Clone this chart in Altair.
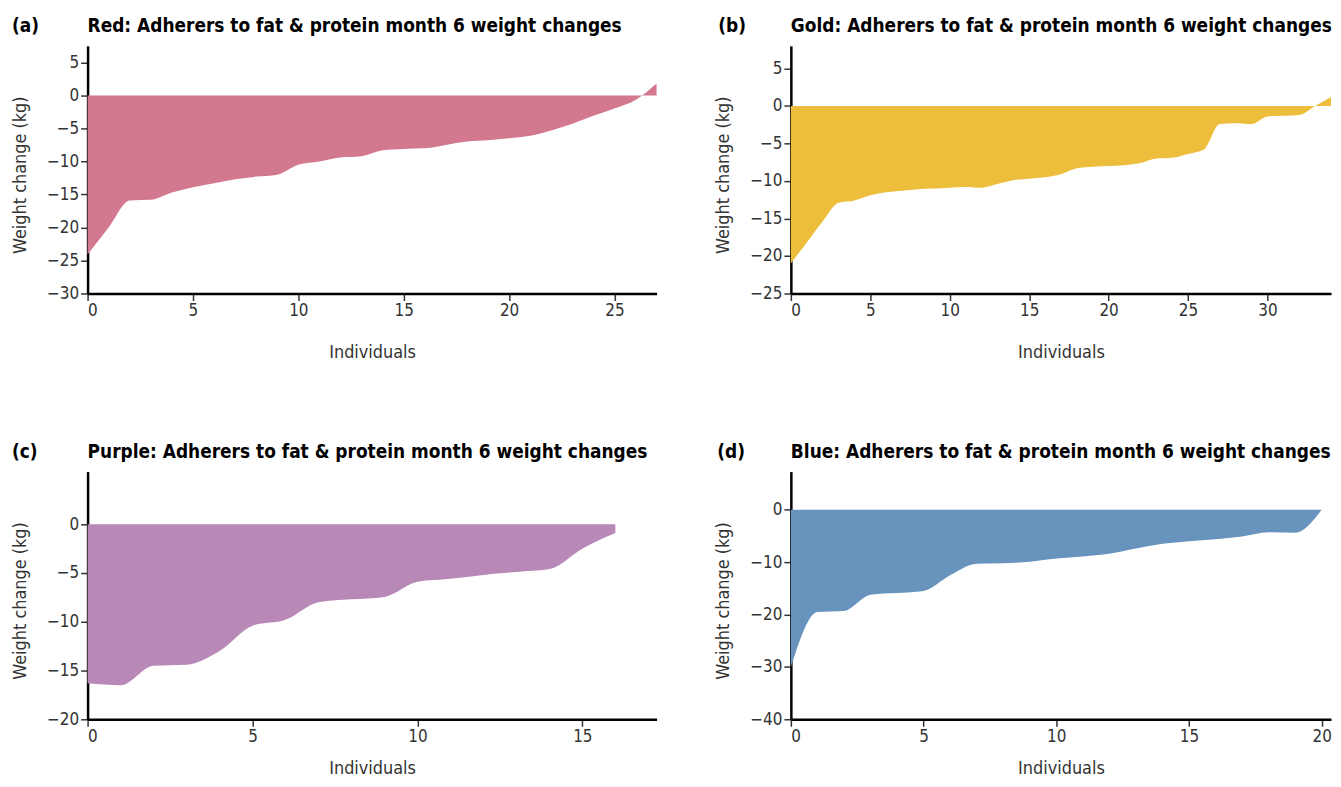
import altair as alt
import pandas as pd

FONT = "DejaVu Sans Condensed, DejaVu Sans, sans-serif"

# ---- data ----
red_x = list(range(28))
red_y = [-24.1, -20.0, -15.9, -15.8, -14.7, -13.9, -13.3, -12.7, -12.3, -12.0,
         -10.5, -10.0, -9.4, -9.2, -8.3, -8.1, -8.0, -7.5, -7.0, -6.8,
         -6.5, -6.1, -5.3, -4.3, -3.1, -2.0, -0.7, 1.8]

gold_x = list(range(35))
gold_y = [-21.0, -18.2, -15.4, -12.9, -12.6, -11.9, -11.5, -11.3, -11.1, -11.0,
          -10.9, -10.8, -10.9, -10.4, -9.9, -9.7, -9.5, -9.1, -8.3, -8.1,
          -8.0, -7.9, -7.6, -7.0, -6.9, -6.4, -5.8, -2.4, -2.3, -2.4,
          -1.4, -1.3, -1.2, 0.0, 1.2]

purple_x = list(range(17))
purple_y = [-16.3, -16.5, -14.5, -14.4, -13.0, -10.4, -9.8, -8.0, -7.7, -7.45,
            -5.9, -5.6, -5.2, -4.9, -4.6, -2.5, -0.9]

blue_x = list(range(21))
blue_y = [-30.1, -19.5, -19.3, -16.2, -15.9, -15.5, -12.5, -10.3, -10.2, -9.9,
          -9.3, -8.9, -8.4, -7.4, -6.5, -6.0, -5.6, -5.1, -4.3, -4.4, 0.0]

titles = [
    "Red: Adherers to fat & protein month 6 weight changes",
    "Gold: Adherers to fat & protein month 6 weight changes",
    "Purple: Adherers to fat & protein month 6 weight changes",
    "Blue: Adherers to fat & protein month 6 weight changes",
]
labels = ["(a)", "(b)", "(c)", "(d)"]
colors = ["#d27990", "#ecbe3c", "#b889b6", "#6893bd"]

x_ticks = [[0, 5, 10, 15, 20, 25], [0, 5, 10, 15, 20, 25, 30], [0, 5, 10, 15], [0, 5, 10, 15, 20]]
y_ticks = [[5, 0, -5, -10, -15, -20, -25, -30], [5, 0, -5, -10, -15, -20, -25],
           [0, -5, -10, -15, -20], [0, -10, -20, -30, -40]]
x_max = [27, 34, 17.25, 20.35]
y_dom = [[-30, 7.5], [-25, 8], [-20, 5.4], [-40, 7.3]]
widths = [572, 543, 572, 543]
label_dx = [-76, -73, -76, -74]
x_title_pad = [25, 25, 16, 16]
HEIGHT = 249


def panel(xs, ys, i):
    df = pd.DataFrame({"x": xs, "y": ys})
    area = alt.Chart(df).mark_area(
        color=colors[i], interpolate="monotone", opacity=1
    ).encode(
        x=alt.X("x:Q", scale=alt.Scale(domain=[0, x_max[i]], nice=False, zero=False),
                axis=alt.Axis(values=x_ticks[i], title="Individuals",
                              titlePadding=x_title_pad[i])),
        y=alt.Y("y:Q", scale=alt.Scale(domain=y_dom[i], nice=False, zero=False),
                axis=alt.Axis(values=y_ticks[i], title="Weight change (kg)",
                              titlePadding=17, titleY=HEIGHT / 2 + 5)),
        y2=alt.datum(0),
    )
    ttl = alt.Chart(pd.DataFrame({"t": [titles[i]]})).mark_text(
        align="left", baseline="alphabetic", font=FONT, fontSize=19,
        fontWeight="bold", color="#000000"
    ).encode(x=alt.value(0), y=alt.value(-14), text="t:N")
    lab = alt.Chart(pd.DataFrame({"t": [labels[i]]})).mark_text(
        align="left", baseline="alphabetic", font=FONT, fontSize=19,
        fontWeight="bold", color="#000000"
    ).encode(x=alt.value(label_dx[i]), y=alt.value(-14), text="t:N")
    return alt.layer(area, ttl, lab).properties(width=widths[i], height=HEIGHT)


a = panel(red_x, red_y, 0)
b = panel(gold_x, gold_y, 1)
c = panel(purple_x, purple_y, 2)
d = panel(blue_x, blue_y, 3)

chart = alt.concat(a, b, c, d, columns=2, spacing={"row": 179, "column": 135},
                   bounds="flush").properties(
    padding={"left": 3, "top": 7, "right": 0, "bottom": 0}
).configure_view(stroke=None).configure_axis(
    grid=False,
    domainColor="#000000", domainWidth=2.5,
    tickColor="#333333", tickWidth=1.5, tickSize=7,
    labelFont=FONT, labelFontSize=17, labelColor="#333333", labelPadding=2,
    titleFont=FONT, titleFontSize=18, titleFontWeight="normal", titleColor="#333333",
)

chart.save("out.html", embed_options={"renderer": "svg", "actions": False})
